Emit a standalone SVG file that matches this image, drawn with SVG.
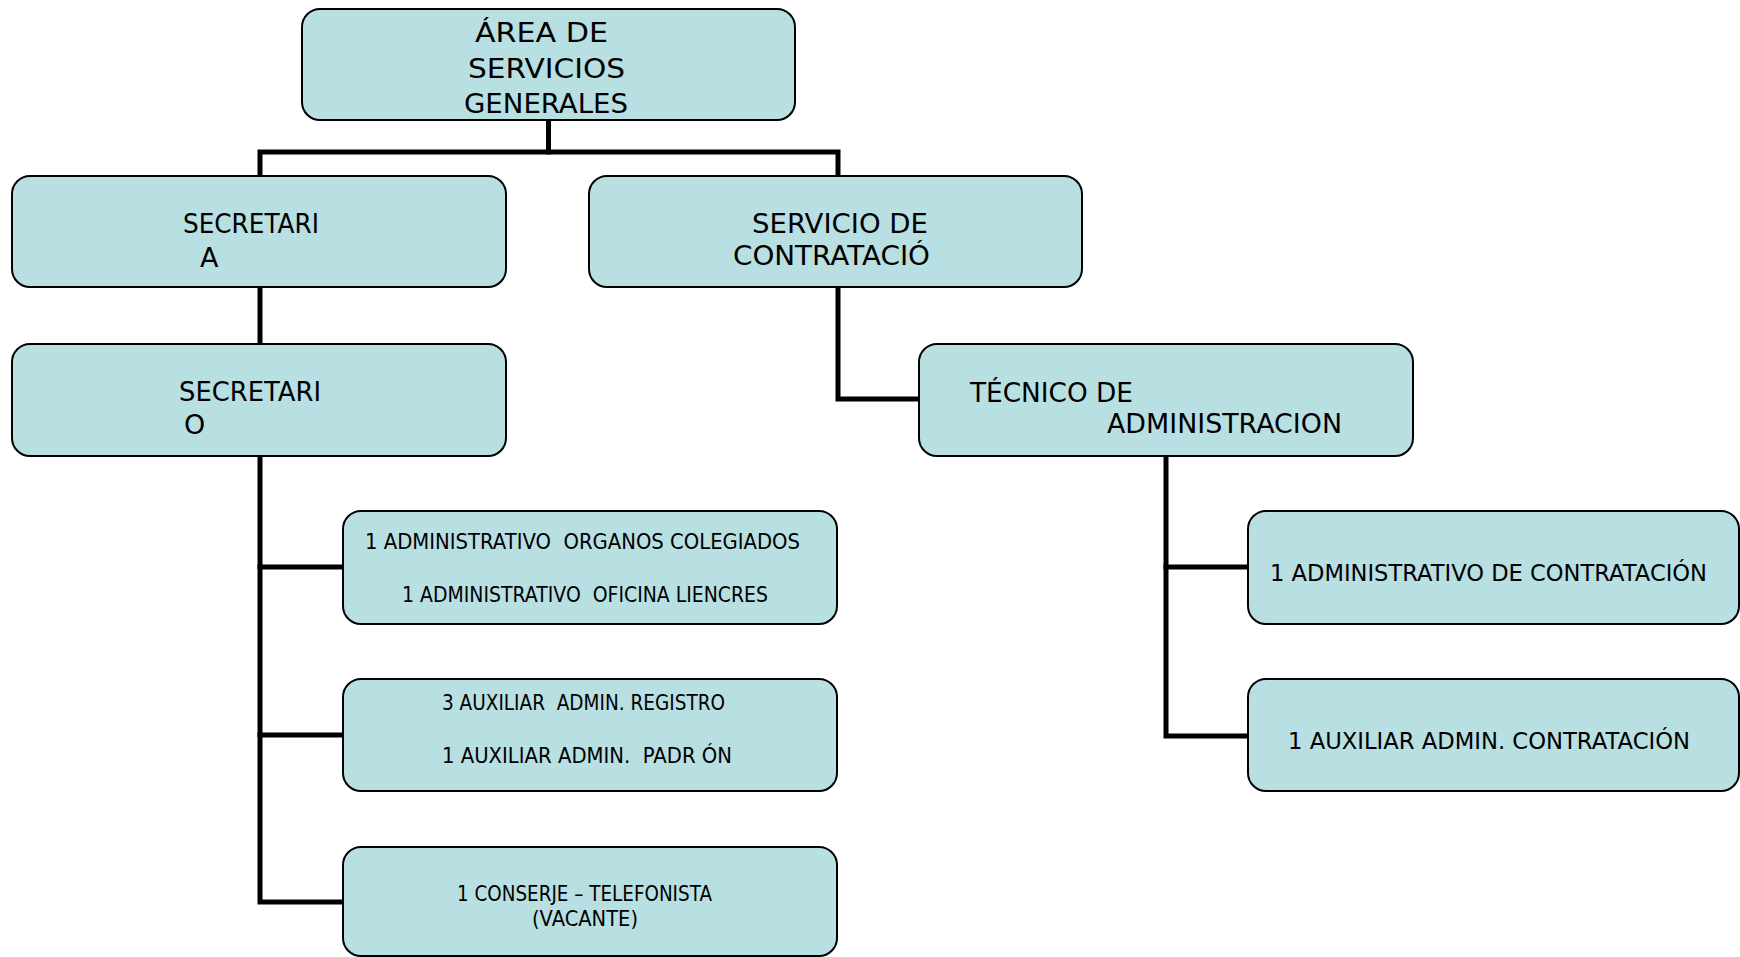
<svg xmlns="http://www.w3.org/2000/svg" width="1740" height="957" viewBox="0 0 1740 957">
<style>
.box{fill:#b8dfe2;stroke:#000;stroke-width:2}
.t{font-family:"DejaVu Sans","Liberation Sans",sans-serif;fill:#000}
.b{font-size:27px}
.m{font-size:23px}
.s{font-size:22px}
.c{fill:none;stroke:#000;stroke-width:5;stroke-linejoin:miter;stroke-linecap:square}
</style>
<rect width="1740" height="957" fill="#fff"/>
<g id="connectors">
<path class="c" d="M548.5 121 V152"/>
<path class="c" d="M260 176 V152 H838 V176"/>
<path class="c" d="M260 288 V343"/>
<path class="c" d="M838 288 V399 H918"/>
<path class="c" d="M260 457 V902 H342"/>
<path class="c" d="M260 567 H342"/>
<path class="c" d="M260 735 H342"/>
<path class="c" d="M1166 457 V736 H1247"/>
<path class="c" d="M1166 567 H1247"/>
</g>
<g id="n-area">
<rect class="box" x="302" y="9" width="493" height="111" rx="18"/>
<text class="t b" x="475" y="42" textLength="133" lengthAdjust="spacingAndGlyphs">ÁREA DE</text>
<text class="t b" x="468" y="78" textLength="157" lengthAdjust="spacingAndGlyphs">SERVICIOS</text>
<text class="t b" x="464" y="113" textLength="164" lengthAdjust="spacingAndGlyphs">GENERALES</text>
</g>
<g id="n-secretaria">
<rect class="box" x="12" y="176" width="494" height="111" rx="18"/>
<text class="t b" x="183" y="233" textLength="136" lengthAdjust="spacingAndGlyphs">SECRETARI</text>
<text class="t b" x="200" y="267">A</text>
</g>
<g id="n-servicio">
<rect class="box" x="589" y="176" width="493" height="111" rx="18"/>
<text class="t b" x="752" y="233" textLength="176" lengthAdjust="spacingAndGlyphs">SERVICIO DE</text>
<text class="t b" x="733" y="265" textLength="197" lengthAdjust="spacingAndGlyphs">CONTRATACIÓ</text>
</g>
<g id="n-secretario">
<rect class="box" x="12" y="344" width="494" height="112" rx="18"/>
<text class="t b" x="179" y="401" textLength="142" lengthAdjust="spacingAndGlyphs">SECRETARI</text>
<text class="t b" x="184" y="434">O</text>
</g>
<g id="n-tecnico">
<rect class="box" x="919" y="344" width="494" height="112" rx="18"/>
<text class="t b" x="970" y="402" font-size="28" textLength="163" lengthAdjust="spacingAndGlyphs">TÉCNICO DE</text>
<text class="t b" x="1107" y="433" font-size="28" textLength="235" lengthAdjust="spacingAndGlyphs">ADMINISTRACION</text>
</g>
<g id="n-l1">
<rect class="box" x="343" y="511" width="494" height="113" rx="18"/>
<text class="t s" xml:space="preserve" x="365" y="549" textLength="435" lengthAdjust="spacingAndGlyphs">1 ADMINISTRATIVO  ORGANOS COLEGIADOS</text>
<text class="t s" xml:space="preserve" x="402" y="602" textLength="366" lengthAdjust="spacingAndGlyphs">1 ADMINISTRATIVO  OFICINA LIENCRES</text>
</g>
<g id="n-l2">
<rect class="box" x="343" y="679" width="494" height="112" rx="18"/>
<text class="t s" xml:space="preserve" x="442" y="710" textLength="283" lengthAdjust="spacingAndGlyphs">3 AUXILIAR  ADMIN. REGISTRO</text>
<text class="t s" xml:space="preserve" x="442" y="763" textLength="290" lengthAdjust="spacingAndGlyphs">1 AUXILIAR ADMIN.  PADR ÓN</text>
</g>
<g id="n-l3">
<rect class="box" x="343" y="847" width="494" height="109" rx="18"/>
<text class="t s" x="457" y="901" font-size="21" textLength="255" lengthAdjust="spacingAndGlyphs">1 CONSERJE – TELEFONISTA</text>
<text class="t s" x="532" y="926" font-size="21" textLength="106" lengthAdjust="spacingAndGlyphs">(VACANTE)</text>
</g>
<g id="n-r1">
<rect class="box" x="1248" y="511" width="491" height="113" rx="18"/>
<text class="t m" x="1270" y="581" font-size="22.5" textLength="437" lengthAdjust="spacingAndGlyphs">1 ADMINISTRATIVO DE CONTRATACIÓN</text>
</g>
<g id="n-r2">
<rect class="box" x="1248" y="679" width="491" height="112" rx="18"/>
<text class="t m" x="1288" y="749" textLength="402" lengthAdjust="spacingAndGlyphs">1 AUXILIAR ADMIN. CONTRATACIÓN</text>
</g>
</svg>
